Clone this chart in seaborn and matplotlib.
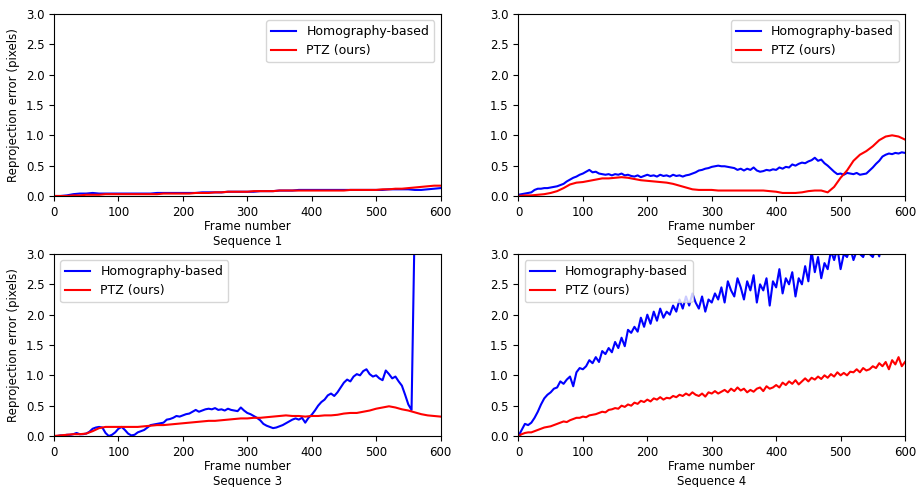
import numpy as np
import pandas as pd
import seaborn as sns
import matplotlib
matplotlib.use("Agg")
import matplotlib.pyplot as plt

# frame grids
frames10 = np.arange(0, 601, 10)
frames5 = np.arange(0, 601, 5)
frames5_s3 = np.arange(0, 561, 5)

# Sequence 1 (every 10 frames)
seq1_homo = [0.0, 0.0, 0.01, 0.03, 0.04, 0.04, 0.05, 0.04, 0.04, 0.04, 0.04, 0.04, 0.04, 0.04, 0.04,
             0.04, 0.05, 0.05, 0.05, 0.05, 0.05, 0.05, 0.05, 0.06, 0.06, 0.06, 0.06, 0.07, 0.07, 0.07,
             0.07, 0.07, 0.08, 0.08, 0.08, 0.09, 0.09, 0.09, 0.1, 0.1, 0.1, 0.1, 0.1, 0.1, 0.1,
             0.1, 0.1, 0.1, 0.1, 0.1, 0.1, 0.1, 0.11, 0.11, 0.11, 0.11, 0.1, 0.1, 0.11, 0.12, 0.13]
seq1_ptz = [0.0, 0.0, 0.0, 0.01, 0.01, 0.02, 0.02, 0.02, 0.03, 0.03, 0.03, 0.03, 0.03, 0.03, 0.03,
            0.03, 0.03, 0.04, 0.04, 0.04, 0.04, 0.04, 0.05, 0.05, 0.05, 0.06, 0.06, 0.07, 0.07, 0.07,
            0.07, 0.08, 0.08, 0.08, 0.08, 0.09, 0.09, 0.09, 0.09, 0.09, 0.09, 0.09, 0.09, 0.09, 0.09,
            0.09, 0.1, 0.1, 0.1, 0.1, 0.1, 0.11, 0.11, 0.12, 0.12, 0.13, 0.14, 0.15, 0.16, 0.17, 0.17]

# Sequence 2
seq2_homo = [0.02, 0.03, 0.04, 0.05, 0.06, 0.1, 0.12, 0.12, 0.13, 0.13, 0.14, 0.15, 0.16, 0.18, 0.2,
             0.24, 0.27, 0.3, 0.32, 0.35, 0.37, 0.4, 0.43, 0.39, 0.4, 0.37, 0.36, 0.35, 0.36, 0.34,
             0.36, 0.35, 0.37, 0.34, 0.35, 0.33, 0.32, 0.34, 0.31, 0.33, 0.35, 0.33, 0.34, 0.32, 0.35,
             0.33, 0.34, 0.32, 0.35, 0.33, 0.34, 0.32, 0.34, 0.35, 0.37, 0.39, 0.42, 0.43, 0.45, 0.46,
             0.48, 0.49, 0.5, 0.49, 0.49, 0.48, 0.47, 0.46, 0.43, 0.45, 0.42, 0.45, 0.43, 0.47, 0.42,
             0.4, 0.41, 0.43, 0.42, 0.44, 0.43, 0.47, 0.45, 0.48, 0.47, 0.52, 0.5, 0.53, 0.55, 0.54,
             0.57, 0.59, 0.63, 0.58, 0.6, 0.54, 0.5, 0.45, 0.4, 0.36, 0.37, 0.35, 0.38, 0.37, 0.36,
             0.38, 0.35, 0.36, 0.37, 0.42, 0.47, 0.53, 0.58, 0.65, 0.68, 0.7, 0.69, 0.71, 0.7, 0.72, 0.71]
seq2_ptz = [0.0, 0.01, 0.01, 0.02, 0.03, 0.05, 0.08, 0.13, 0.19, 0.22, 0.23, 0.25, 0.27, 0.29, 0.29,
            0.3, 0.31, 0.3, 0.28, 0.26, 0.25, 0.24, 0.23, 0.22, 0.2, 0.17, 0.14, 0.11, 0.1, 0.1,
            0.1, 0.09, 0.09, 0.09, 0.09, 0.09, 0.09, 0.09, 0.09, 0.08, 0.07, 0.05, 0.05, 0.05, 0.06,
            0.08, 0.09, 0.09, 0.06, 0.15, 0.3, 0.42, 0.58, 0.68, 0.74, 0.82, 0.92, 0.98, 1.0, 0.98, 0.93]

# Sequence 3
seq3_homo = [0.0, 0.0, 0.01, 0.01, 0.02, 0.02, 0.03, 0.05, 0.03, 0.03, 0.04, 0.07, 0.12, 0.14, 0.15,
             0.14, 0.05, 0.0, 0.02, 0.06, 0.12, 0.15, 0.1, 0.04, 0.01, 0.02, 0.06, 0.08, 0.1, 0.14,
             0.18, 0.19, 0.2, 0.21, 0.22, 0.27, 0.28, 0.3, 0.33, 0.32, 0.34, 0.36, 0.37, 0.4, 0.43,
             0.4, 0.42, 0.44, 0.45, 0.44, 0.46, 0.43, 0.44, 0.42, 0.45, 0.43, 0.42, 0.41, 0.47, 0.42,
             0.38, 0.36, 0.33, 0.3, 0.26, 0.2, 0.17, 0.15, 0.13, 0.14, 0.16, 0.18, 0.21, 0.24, 0.27,
             0.29, 0.27, 0.3, 0.22, 0.3, 0.35, 0.42, 0.5, 0.56, 0.6, 0.67, 0.7, 0.66, 0.72, 0.8,
             0.88, 0.93, 0.9, 0.98, 1.02, 1.0, 1.07, 1.1, 1.02, 0.98, 1.0, 0.95, 0.92, 1.08, 1.02,
             0.95, 0.98, 0.9, 0.83, 0.68, 0.52, 0.43, 3.6]
seq3_ptz = [0.0, 0.01, 0.02, 0.03, 0.03, 0.04, 0.08, 0.13, 0.15, 0.15, 0.15, 0.15, 0.15, 0.15, 0.16,
            0.17, 0.18, 0.18, 0.19, 0.2, 0.21, 0.22, 0.23, 0.24, 0.25, 0.25, 0.26, 0.27, 0.28, 0.29,
            0.29, 0.3, 0.3, 0.31, 0.32, 0.33, 0.34, 0.33, 0.33, 0.32, 0.33, 0.33, 0.34, 0.34, 0.35,
            0.37, 0.38, 0.38, 0.4, 0.42, 0.45, 0.47, 0.49, 0.47, 0.44, 0.42, 0.39, 0.36, 0.34, 0.33, 0.32]

# Sequence 4
seq4_homo = [0.0, 0.1, 0.2, 0.18, 0.22, 0.3, 0.4, 0.52, 0.62, 0.68, 0.72, 0.78, 0.8, 0.9, 0.86,
             0.93, 0.98, 0.82, 1.05, 1.12, 1.1, 1.15, 1.25, 1.2, 1.3, 1.22, 1.4, 1.35, 1.45, 1.38,
             1.55, 1.45, 1.62, 1.48, 1.75, 1.7, 1.8, 1.72, 1.95, 1.8, 2.0, 1.85, 2.05, 1.9, 2.1,
             1.95, 2.05, 2.0, 2.15, 2.05, 2.25, 2.1, 2.3, 2.15, 2.35, 2.2, 2.1, 2.3, 2.05, 2.25,
             2.2, 2.35, 2.25, 2.45, 2.2, 2.55, 2.4, 2.3, 2.6, 2.45, 2.25, 2.55, 2.4, 2.65, 2.2,
             2.5, 2.4, 2.6, 2.15, 2.55, 2.45, 2.75, 2.35, 2.6, 2.5, 2.7, 2.3, 2.6, 2.5, 2.8,
             2.55, 3.05, 2.7, 2.95, 2.6, 2.85, 2.75, 3.05, 2.9, 3.1, 2.75, 3.0, 2.95, 3.1, 2.9,
             3.05, 3.0, 2.95, 3.1, 3.0, 2.95, 3.1, 2.96, 3.2, 3.3, 3.2, 3.3, 3.25, 3.35, 3.3, 3.4]
seq4_ptz = [0.0, 0.03, 0.05, 0.06, 0.06, 0.08, 0.1, 0.12, 0.14, 0.15, 0.16, 0.18, 0.2, 0.22, 0.24,
            0.23, 0.26, 0.28, 0.3, 0.3, 0.32, 0.31, 0.34, 0.35, 0.36, 0.38, 0.4, 0.39, 0.43, 0.44,
            0.46, 0.45, 0.5, 0.48, 0.52, 0.5, 0.55, 0.53, 0.58, 0.56, 0.6, 0.57, 0.62, 0.6, 0.64,
            0.6, 0.63, 0.62, 0.66, 0.64, 0.68, 0.66, 0.7, 0.67, 0.72, 0.68, 0.66, 0.7, 0.65, 0.72,
            0.7, 0.74, 0.7, 0.73, 0.76, 0.72, 0.78, 0.74, 0.8, 0.75, 0.78, 0.72, 0.76, 0.73, 0.78,
            0.8, 0.74, 0.82, 0.78, 0.8, 0.84, 0.8, 0.88, 0.84, 0.9, 0.86, 0.92, 0.85, 0.9, 0.95,
            0.9, 0.96, 0.93, 0.98, 0.94, 1.0, 0.96, 1.02, 0.98, 1.05, 1.0, 1.04, 1.0, 1.06, 1.05,
            1.1, 1.05, 1.12, 1.08, 1.1, 1.15, 1.12, 1.2, 1.15, 1.22, 1.1, 1.25, 1.18, 1.3, 1.15, 1.22]

sequences = [
    ("Sequence 1", frames10, seq1_homo, frames10, seq1_ptz, "upper right"),
    ("Sequence 2", frames5, seq2_homo, frames10, seq2_ptz, "upper right"),
    ("Sequence 3", frames5_s3, seq3_homo, frames10, seq3_ptz, "upper left"),
    ("Sequence 4", frames5, seq4_homo, frames5, seq4_ptz, "upper left"),
]

plt.rcParams["font.family"] = ["DejaVu Sans"]
plt.rcParams["font.size"] = 8.5

fig, axes = plt.subplots(2, 2, figsize=(9.2, 4.87), dpi=100)
fig.subplots_adjust(left=0.0587, right=0.9837, top=0.9713, bottom=0.1047,
                    wspace=0.2016, hspace=0.3187)

for i, (name, xh, yh, xp, yp, loc) in enumerate(sequences):
    ax = axes.flat[i]
    sns.lineplot(x=xh, y=yh, ax=ax, color="blue", lw=1.5, label="Homography-based", estimator=None)
    sns.lineplot(x=xp, y=yp, ax=ax, color="red", lw=1.5, label="PTZ (ours)", estimator=None)
    ax.set_xlim(0, 600)
    ax.set_ylim(0, 3.0)
    ax.set_yticks([0, 0.5, 1.0, 1.5, 2.0, 2.5, 3.0])
    ax.set_xlabel("Frame number\n" + name, labelpad=1)
    if i % 2 == 0:
        ax.set_ylabel("Reprojection error (pixels)")
    else:
        ax.set_ylabel("")
    ax.legend(loc=loc, fontsize=9)

fig.savefig("out.png", dpi=100)
